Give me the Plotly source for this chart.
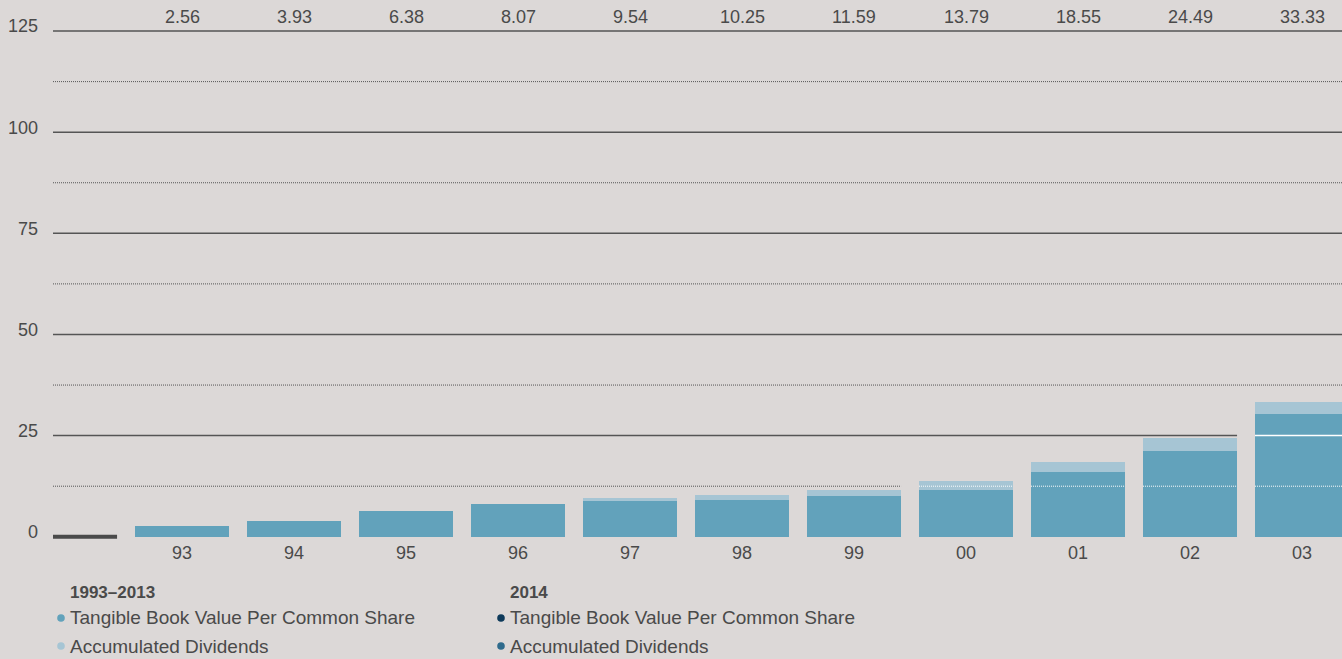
import plotly.graph_objects as go

# ---- data ----
YEARS = ["93", "94", "95", "96", "97", "98", "99", "00", "01", "02", "03"]
TBV = [2.56, 3.93, 6.38, 8.07, 8.79, 9.03, 10.00, 11.60, 15.90, 21.30, 30.33]
DIVIDENDS = [0.0, 0.0, 0.0, 0.0, 0.75, 1.22, 1.59, 2.19, 2.65, 3.19, 3.00]
TOTAL_LABELS = ["2.56", "3.93", "6.38", "8.07", "9.54", "10.25", "11.59",
                "13.79", "18.55", "24.49", "33.33"]
Y_TICKS = [0, 25, 50, 75, 100, 125]
DOTTED_LEVELS = [12.5, 37.5, 62.5, 87.5, 112.5]

# ---- style ----
BG = "#dcd8d7"
TXT = "#4a4a4a"
GRID = "#555555"
C_TBV = "#62a2bb"
C_DIV = "#a6c5d4"
C_TBV14 = "#0e3a5a"
C_DIV14 = "#2f6b8c"
FONT = "Liberation Sans, Arial, sans-serif"

W, H = 1342, 659
ML, MR, MT, MB = 53, 0, 27, 119
X_MIN, X_MAX = -1.152, 10.357
Y_MIN, Y_MAX = -0.8, 126.0
HALF = 0.42  # half bar width (bargap 0.16)

xs = list(range(len(YEARS)))
totals = [a + b for a, b in zip(TBV, DIVIDENDS)]

fig = go.Figure()
fig.add_trace(go.Bar(x=xs, y=TBV, marker=dict(color=C_TBV, line=dict(width=0)),
                     name="Tangible Book Value Per Common Share", showlegend=False))
fig.add_trace(go.Bar(x=xs, y=DIVIDENDS, marker=dict(color=C_DIV, line=dict(width=0)),
                     name="Accumulated Dividends", showlegend=False))

shapes = []

def grid_shapes(level, dash, width):
    over = [i for i, t in enumerate(totals) if t > level]
    if not over:
        shapes.append(dict(type="line", xref="x", yref="y", x0=X_MIN, x1=X_MAX + 1,
                           y0=level, y1=level, layer="below",
                           line=dict(color=GRID, width=width, dash=dash)))
        return
    first = over[0]
    shapes.append(dict(type="line", xref="x", yref="y", x0=X_MIN, x1=first - 1 + HALF,
                       y0=level, y1=level, layer="below",
                       line=dict(color=GRID, width=width, dash=dash)))
    for i in over:
        shapes.append(dict(type="line", xref="x", yref="y", x0=i - HALF, x1=i + HALF,
                           y0=level, y1=level, layer="above",
                           line=dict(color="#ffffff", width=width, dash=dash)))

for lv in Y_TICKS[1:]:
    grid_shapes(lv, "solid", 1.5)
for lv in DOTTED_LEVELS:
    grid_shapes(lv, "1px,1px", 1)

# baseline stub before the first year
shapes.append(dict(type="line", xref="x", yref="y", x0=X_MIN, x1=-1 + HALF,
                   y0=0, y1=0, layer="above", line=dict(color="#4a4a4a", width=4)))

plot_w = W - ML - MR
plot_h = H - MT - MB

def px_to_paper(px, py):
    return (px - ML) / plot_w, (H - MB - py) / plot_h

annotations = []
_, top_y = px_to_paper(0, 17.5)
for x, lab in zip(xs, TOTAL_LABELS):
    annotations.append(dict(x=x, y=top_y, xref="x", yref="paper", text=lab, showarrow=False,
                            xanchor="center", yanchor="middle",
                            font=dict(family=FONT, size=18, color=TXT)))

# legend (custom)
legend_cols = [
    (70, "1993–2013", [("Tangible Book Value Per Common Share", C_TBV),
                       ("Accumulated Dividends", C_DIV)]),
    (510, "2014", [("Tangible Book Value Per Common Share", C_TBV14),
                   ("Accumulated Dividends", C_DIV14)]),
]
for tx, title, items in legend_cols:
    ax, ay = px_to_paper(tx - 2, 592)
    annotations.append(dict(x=ax, y=ay, xref="paper", yref="paper",
                            text="<b>" + title + "</b>", showarrow=False,
                            xanchor="left", yanchor="middle",
                            font=dict(family=FONT, size=17, color=TXT)))
    for k, (lab, col) in enumerate(items):
        py = 618 + k * 28
        ax, ay = px_to_paper(tx - 2, py)
        annotations.append(dict(x=ax, y=ay, xref="paper", yref="paper", text=lab,
                                showarrow=False, xanchor="left", yanchor="middle",
                                font=dict(family=FONT, size=19, color=TXT)))
        dx, dy = px_to_paper(tx - 9, py)
        shapes.append(dict(type="circle", xref="paper", yref="paper",
                           xsizemode="pixel", ysizemode="pixel",
                           xanchor=dx, yanchor=dy, x0=-3.8, x1=3.8, y0=-3.8, y1=3.8,
                           fillcolor=col, line=dict(width=0)))

fig.update_layout(
    width=W, height=H,
    margin=dict(l=ML, r=MR, t=MT, b=MB, pad=0),
    paper_bgcolor=BG, plot_bgcolor=BG,
    barmode="stack", bargap=0.16,
    showlegend=False,
    shapes=shapes, annotations=annotations,
    xaxis=dict(range=[X_MIN, X_MAX], tickmode="array", tickvals=xs, ticktext=YEARS,
               showgrid=False, zeroline=False, showline=False, ticks="",
               tickfont=dict(family=FONT, size=18, color=TXT), fixedrange=True),
    yaxis=dict(range=[Y_MIN, Y_MAX], tickmode="array", tickvals=Y_TICKS,
               showgrid=False, zeroline=False, showline=False, ticks="",
               ticklabelstandoff=14, ticklabelshift=-5,
               tickfont=dict(family=FONT, size=18, color=TXT), fixedrange=True),
)

fig.write_html("out.html", config={"displayModeBar": False},
               post_script="document.body.style.margin='0';document.body.style.overflow='hidden';")
